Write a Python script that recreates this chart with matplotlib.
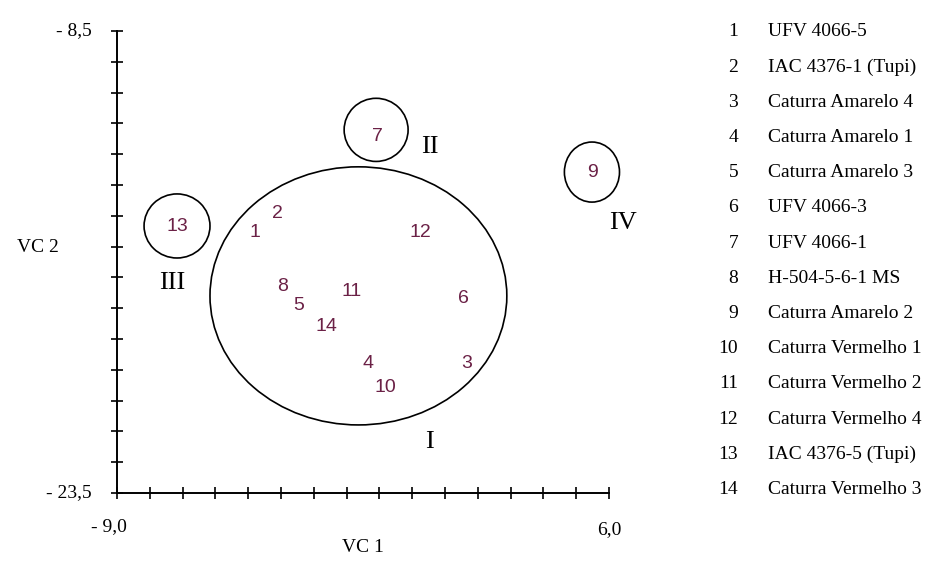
import matplotlib
matplotlib.use("Agg")
import matplotlib.pyplot as plt
from matplotlib.patches import Ellipse

# genotype scores on the first two canonical variables
ids = [str(i) for i in range(1, 15)]
vc1 = [-4.79, -4.12, 1.67, -1.35, -3.45, 1.55, -1.07, -3.94, 5.51, -0.83, -1.84, 0.24, -7.17, -2.60]
vc2 = [-15.03, -14.41, -19.28, -19.28, -17.40, -17.20, -11.94, -16.78, -13.11, -20.09, -16.97, -15.03, -14.86, -18.11]
names = ["UFV 4066-5", "IAC 4376-1 (Tupi)", "Caturra Amarelo 4", "Caturra Amarelo 1",
         "Caturra Amarelo 3", "UFV 4066-3", "UFV 4066-1", "H-504-5-6-1 MS",
         "Caturra Amarelo 2", "Caturra Vermelho 1", "Caturra Vermelho 2",
         "Caturra Vermelho 4", "IAC 4376-5 (Tupi)", "Caturra Vermelho 3"]

# groups (Tocher) drawn as ellipses
groups = ["I", "II", "III", "IV"]
group_cx = [-1.64, -1.10, -7.17, 5.48]
group_cy = [-17.10, -11.71, -14.83, -13.08]
group_w = [9.05, 1.95, 2.01, 1.68]
group_h = [8.38, 2.05, 2.08, 1.95]
group_lx = [0.54, 0.54, -7.32, 6.43]
group_ly = [-21.85, -12.27, -16.68, -14.73]

xlim = (-9.0, 6.0)
ylim = (-23.5, -8.5)
xlabels = ["- 9,0", "6,0"]
ylabels = ["- 23,5", "- 8,5"]

serif = "Liberation Serif"
sans = "Liberation Sans"

fig = plt.figure(figsize=(9.4, 5.62), dpi=100)
ax = fig.add_axes([117 / 940, 1 - 493 / 562, 492 / 940, 462 / 562])
ax.set_xlim(*xlim)
ax.set_ylim(*ylim)

for s in ["top", "right"]:
    ax.spines[s].set_visible(False)
for s in ["left", "bottom"]:
    ax.spines[s].set_linewidth(1.4)

ax.set_xticks([xlim[0] + i for i in range(16)])
ax.set_yticks([ylim[0] + i for i in range(16)])
ax.set_xticklabels([])
ax.set_yticklabels([])
ax.tick_params(direction="inout", length=8, width=1.2)

# end labels of the axes
ax.annotate(xlabels[0], xy=(xlim[0], 0), xycoords=("data", "axes fraction"),
            xytext=(-8, -34), textcoords="offset pixels", ha="center", va="center",
            family=serif, fontsize=14)
ax.annotate(xlabels[1], xy=(xlim[1], 0), xycoords=("data", "axes fraction"),
            xytext=(0, -37), textcoords="offset pixels", ha="center", va="center",
            family=serif, fontsize=14)
ax.annotate(ylabels[0], xy=(0, ylim[0]), xycoords=("axes fraction", "data"),
            xytext=(-25, 0), textcoords="offset pixels", ha="right", va="center",
            family=serif, fontsize=14)
ax.annotate(ylabels[1], xy=(0, ylim[1]), xycoords=("axes fraction", "data"),
            xytext=(-25, 0), textcoords="offset pixels", ha="right", va="center",
            family=serif, fontsize=14)

fig.text(363 / 940, 1 - 548 / 562, "VC 1", ha="center", va="center", family=serif, fontsize=14)
fig.text(38 / 940, 1 - 247 / 562, "VC 2", ha="center", va="center", family=serif, fontsize=14)

for g, cx, cy, w, h, lx, ly in zip(groups, group_cx, group_cy, group_w, group_h, group_lx, group_ly):
    ax.add_patch(Ellipse((cx, cy), w, h, fill=False, edgecolor="black",
                         linewidth=1.2, clip_on=False))
    ax.text(lx, ly, g, ha="center", va="center", family=serif, fontsize=19)

for lab, x, y in zip(ids, vc1, vc2):
    ax.text(x, y, lab, ha="center", va="center", family=sans, fontsize=14, color="#6b2146")

# key to the genotype numbers
for i, (lab, name) in enumerate(zip(ids, names)):
    y = 1 - (32 + i * 35.2) / 562
    fig.text(738 / 940, y, lab, ha="right", va="center", family=serif, fontsize=14)
    fig.text(768 / 940, y, name, ha="left", va="center", family=serif, fontsize=14)

fig.savefig("out.png", dpi=100)
